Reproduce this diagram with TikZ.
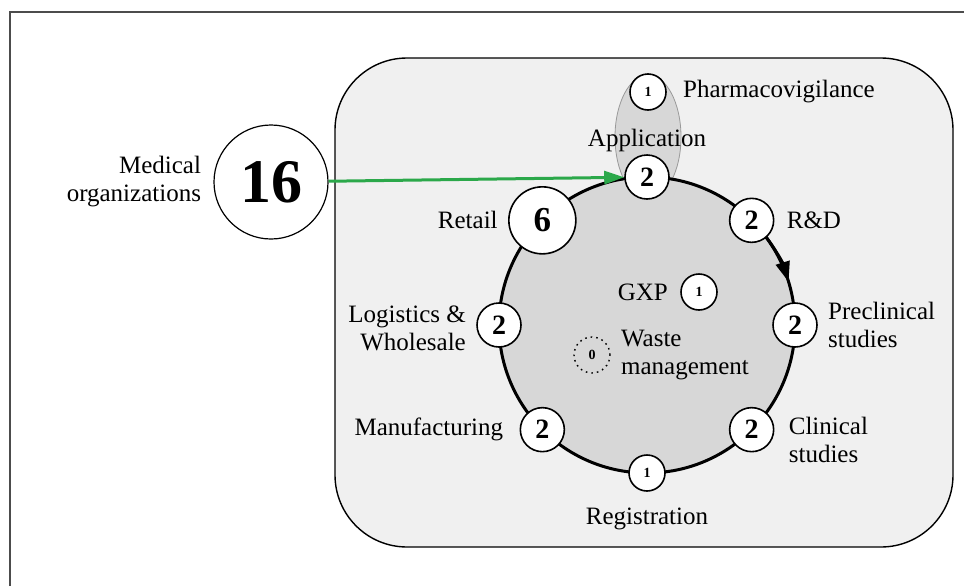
\documentclass[tikz,border=0pt]{standalone}
\usepackage{fontspec}
\setmainfont{Liberation Serif}
\usetikzlibrary{positioning,arrows.meta}

\begin{document}
\begin{tikzpicture}[x=0.5pt, y=0.5pt,
    stage/.style={circle, draw=black, line width=0.8pt, fill=white, minimum size=22pt, inner sep=0pt, font=\fontsize{14}{14}\selectfont\bfseries},
    smallstage/.style={stage, minimum size=18pt, font=\fontsize{7}{7}\selectfont\bfseries},
    lbl/.style={inner sep=0pt, font=\fontsize{12.5}{14}\selectfont}]
    \definecolor{areaColour}{HTML}{F0F0F0}
    \definecolor{cycleColour}{HTML}{D7D7D7}
    \definecolor{arrowColour}{HTML}{2BA84A}

    \def\R{74pt}

    \useasboundingbox (0,0) rectangle (964,586);

    % Draw border lines
    \draw[black!70, line width=0.6pt] (10,0) -- (10,574) -- (964,574);

    % Draw area
    \draw[fill=areaColour, line width=0.7pt, rounded corners=36pt] (335,39) rectangle (953,528);

    % Draw application ellipse
    \draw[fill=cycleColour, draw=black!40, line width=0.4pt] (648,449) ellipse (16.5pt and 31pt);

    % Draw cycle
    \coordinate (O) at (647,261);
    \draw[fill=cycleColour, line width=1.5pt] (O) circle (\R);
    \draw[line width=1.5pt, -{Triangle[length=10pt,width=7pt]}] ([shift={(40:\R)}]O) arc (40:17:\R);

    % Stages on the cycle
    \node[stage] (app) at ([shift={(90:\R)}]O) {2};
    \node[stage] (rd) at ([shift={(45:\R)}]O) {2};
    \node[stage] (precl) at ([shift={(0:\R)}]O) {2};
    \node[stage] (clin) at ([shift={(-45:\R)}]O) {2};
    \node[smallstage] (reg) at ([shift={(-90:\R)}]O) {1};
    \node[stage] (manuf) at ([shift={(225:\R)}]O) {2};
    \node[stage] (logi) at ([shift={(180:\R)}]O) {2};
    \node[stage, minimum size=33.5pt, font=\fontsize{17.5}{17.5}\selectfont\bfseries] (retail) at ([shift={(135:\R)}]O) {6};

    % Other stages
    \node[smallstage] (pharma) at (648,494) {1};
    \node[smallstage] (gxp) at (699,294) {1};
    \node[smallstage, dotted, fill=none, line width=0.7pt] (waste) at (592,231) {0};
    \node[stage, minimum size=57pt, line width=0.6pt, font=\fontsize{31}{31}\selectfont\bfseries] (med) at (271,404) {16};

    % Labels
    \node[lbl, right=8pt of pharma] (pharmaText) {Pharmacovigilance};
    \node[lbl, above=1pt of app] (appText) {Application};
    \node[lbl, right=6pt of rd] (rdText) {R\&D};
    \node[lbl, right=5pt of precl, align=left] (preclText) {Preclinical\\studies};
    \node[lbl, right=7pt of clin, yshift=-5pt, align=left] (clinText) {Clinical\\studies};
    \node[lbl, below=8pt of reg] (regText) {Registration};
    \node[lbl, left=8pt of manuf] (manufText) {Manufacturing};
    \node[lbl, left=5pt of logi, yshift=-1.5pt, align=right] (logiText) {Logistics \&\\Wholesale};
    \node[lbl, left=5pt of retail] (retailText) {Retail};
    \node[lbl, left=6pt of gxp] (gxpText) {GXP};
    \node[lbl, right=5pt of waste, align=left] (wasteText) {Waste\\management};
    \node[lbl, left=6pt of med, align=right] (medText) {Medical\\organizations};

    % Draw link to application
    \draw[arrowColour, line width=1.5pt, -{Triangle[length=10pt,width=6.5pt]}] (med) -- (app);

\end{tikzpicture}
\end{document}
